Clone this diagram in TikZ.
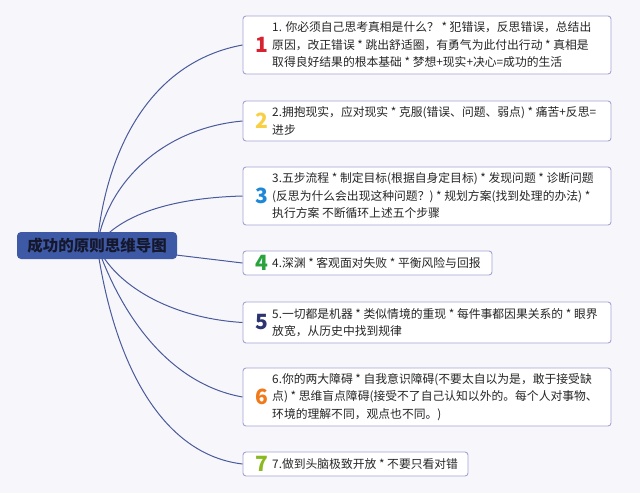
\documentclass[tikz,border=0pt]{standalone}
\usepackage{fontspec}
\newfontfamily\cjk{Noto Sans CJK SC}
\definecolor{bgc}{HTML}{F7F7FB}
\definecolor{rootc}{HTML}{3E5AA6}
\definecolor{linec}{HTML}{4A5A9C}
\definecolor{boxc}{HTML}{A3A2D4}
\definecolor{txtc}{HTML}{262626}
\definecolor{rtxt}{HTML}{15182C}
\definecolor{cA}{HTML}{D6232F}
\definecolor{cB}{HTML}{F8CF45}
\definecolor{cC}{HTML}{1E88D8}
\definecolor{cD}{HTML}{28A33E}
\definecolor{cE}{HTML}{2D3570}
\definecolor{cF}{HTML}{F07A1A}
\definecolor{cG}{HTML}{8AB920}
\pgfdeclarelayer{back}
\pgfdeclarelayer{conn}
\pgfsetlayers{back,conn,main}
\tikzset{
  itembox/.style={draw=boxc, line width=0.9pt, fill=white, rounded corners=3pt, inner sep=0pt},
  numlabel/.style={font=\cjk\bfseries\fontsize{21pt}{22pt}\selectfont, inner sep=0pt},
  itemtext/.style={font=\cjk\fontsize{11.8pt}{17.5pt}\selectfont, text=txtc, align=left, inner sep=0pt, anchor=west},
  rootbox/.style={fill=rootc, rounded corners=4pt, minimum width=160pt, minimum height=27pt, inner sep=0pt,
    font=\cjk\bfseries\fontsize{15.5pt}{17pt}\selectfont, text=rtxt},
  branch/.style={draw=linec, line width=1pt}
}
\begin{document}
\begin{tikzpicture}[x=1pt,y=-1pt]
\begin{pgfonlayer}{back}
\fill[bgc] (0,0) rectangle (640,493);
\end{pgfonlayer}
\useasboundingbox (0,0) rectangle (640,493);

\node[rootbox] (root) at (97,245.5) {成功的原则思维导图};

\node[itembox, minimum width=368pt, minimum height=58pt] (b1) at (427,45) {};
\node[numlabel, text=cA] (n1) at (262,45) {1};
\node[itemtext] (t1) at (272,45) {1. 你必须自己思考真相是什么？ * 犯错误，反思错误，总结出\\原因，改正错误 * 跳出舒适圈，有勇气为此付出行动 * 真相是\\取得良好结果的根本基础 * 梦想+现实+决心=成功的生活};

\node[itembox, minimum width=368pt, minimum height=40pt] (b2) at (427,121) {};
\node[numlabel, text=cB] (n2) at (262,121) {2};
\node[itemtext] (t2) at (272,121) {2.拥抱现实，应对现实 * 克服(错误、问题、弱点) * 痛苦+反思=\\进步};

\node[itembox, minimum width=368pt, minimum height=58pt] (b3) at (427,196) {};
\node[numlabel, text=cC] (n3) at (262,196) {3};
\node[itemtext] (t3) at (272,196) {3.五步流程 * 制定目标(根据自身定目标) * 发现问题 * 诊断问题\\(反思为什么会出现这种问题？) * 规划方案(找到处理的办法) *\\执行方案 不断循环上述五个步骤};

\node[itembox, minimum width=249pt, minimum height=24pt] (b4) at (367.5,263) {};
\node[numlabel, text=cD] (n4) at (262,263) {4};
\node[itemtext] (t4) at (272,263) {4.深渊 * 客观面对失败 * 平衡风险与回报};

\node[itembox, minimum width=368pt, minimum height=41pt] (b5) at (427,322.5) {};
\node[numlabel, text=cE] (n5) at (262,322.5) {5};
\node[itemtext] (t5) at (272,322.5) {5.一切都是机器 * 类似情境的重现 * 每件事都因果关系的 * 眼界\\放宽，从历史中找到规律};

\node[itembox, minimum width=368pt, minimum height=58pt] (b6) at (427,397) {};
\node[numlabel, text=cF] (n6) at (262,397) {6};
\node[itemtext] (t6) at (272,397) {6.你的两大障碍 * 自我意识障碍(不要太自以为是，敢于接受缺\\点) * 思维盲点障碍(接受不了自己认知以外的。每个人对事物、\\环境的理解不同，观点也不同。)};

\node[itembox, minimum width=225pt, minimum height=24pt] (b7) at (355.5,464) {};
\node[numlabel, text=cG] (n7) at (262,464) {7};
\node[itemtext] (t7) at (272,464) {7.做到头脑极致开放 * 不要只看对错};

\begin{pgfonlayer}{conn}
\draw[branch] (root.center) .. controls (106,150) and (150,62) .. (b1.west);
\draw[branch] (root.center) .. controls (108,180) and (165,128) .. (b2.west);
\draw[branch] (root.center) .. controls (120,215) and (170,198) .. (b3.west);
\draw[branch] (root.center) -- (b4.west);
\draw[branch] (root.center) .. controls (115,285) and (170,318) .. (b5.west);
\draw[branch] (root.center) .. controls (125,325) and (175,385) .. (b6.west);
\draw[branch] (root.center) .. controls (115,370) and (165,455) .. (b7.west);
\end{pgfonlayer}
\end{tikzpicture}
\end{document}
